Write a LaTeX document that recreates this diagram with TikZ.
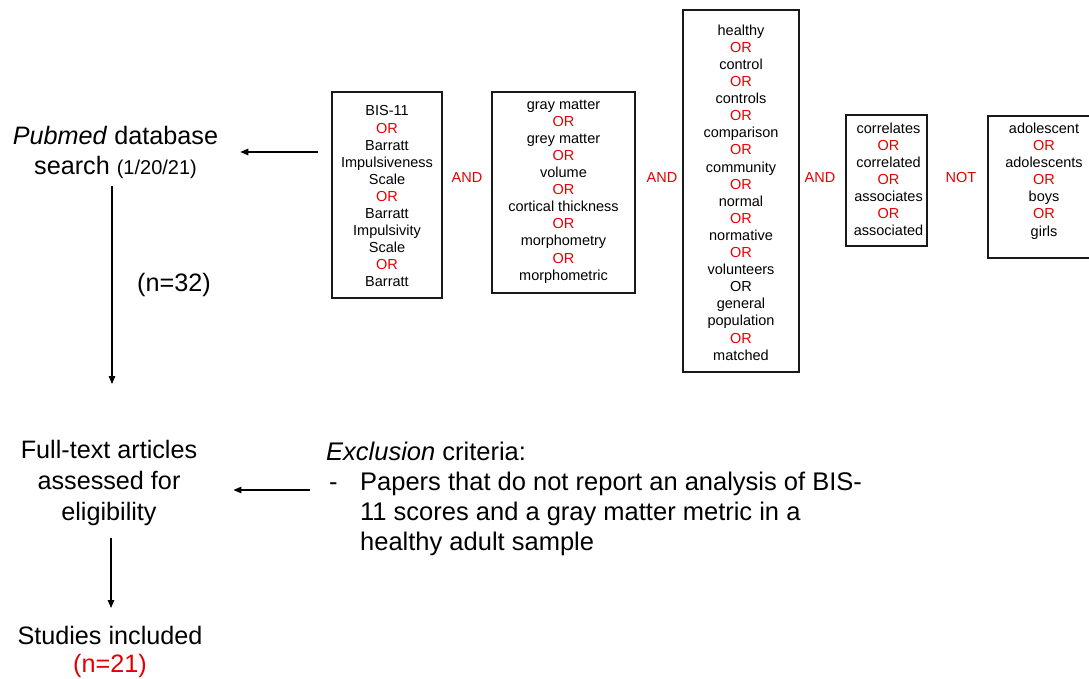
\documentclass[tikz,border=0pt]{standalone}
\usepackage{fontspec}
\setmainfont{Liberation Sans}
\usetikzlibrary{arrows.meta}
\definecolor{orred}{RGB}{228,0,0}
\newcommand{\ror}{\textcolor{orred}{OR}}
\begin{document}
\begin{tikzpicture}[x=1pt,y=-1pt,
  box/.style={draw=black!90, line width=1.1pt, inner sep=0pt},
  qt/.style={font=\fontsize{14.5}{17.1}\selectfont, align=center, inner sep=0pt},
  op/.style={font=\fontsize{14.5}{17.1}\selectfont, text=orred, inner sep=0pt},
  big/.style={font=\fontsize{25.2}{30}\selectfont, align=center, inner sep=0pt},
  arr/.style={line width=1.1pt, -{Triangle[length=8pt,width=6.5pt]}}]
\useasboundingbox (0,0) rectangle (1089,679);

% search term boxes
\node[box, minimum width=110pt, minimum height=206pt] (b1) at (387,195) {};
\node[qt] (t1) at (387,196.5) {BIS-11\\\ror\\Barratt\\Impulsiveness\\Scale\\\ror\\Barratt\\Impulsivity\\Scale\\\ror\\Barratt};
\node[op] (and1) at (467,178) {AND};

\node[box, minimum width=143pt, minimum height=201pt] (b2) at (563.5,192.5) {};
\node[qt] (t2) at (563.5,191.5) {gray matter\\\ror\\grey matter\\\ror\\volume\\\ror\\cortical thickness\\\ror\\morphometry\\\ror\\morphometric};
\node[op] (and2) at (662,178) {AND};

\node[box, minimum width=116pt, minimum height=362pt] (b3) at (741,191) {};
\node[qt] (t3) at (741,192.5) {healthy\\\ror\\control\\\ror\\controls\\\ror\\comparison\\\ror\\community\\\ror\\normal\\\ror\\normative\\\ror\\volunteers\\OR\\general\\population\\\ror\\matched};
\node[op] (and3) at (820,178) {AND};

\node[box, minimum width=81pt, minimum height=131pt] (b4) at (886.5,180.5) {};
\node[qt] (t4) at (888.5,179.5) {correlates\\\ror\\correlated\\\ror\\associates\\\ror\\associated};
\node[op] (not1) at (961,178) {NOT};

\node[box, minimum width=110pt, minimum height=142pt] (b5) at (1043,187) {};
\node[qt] (t5) at (1044,181) {adolescent\\\ror\\adolescents\\\ror\\boys\\\ror\\girls};

% flow
\node[big] (pubmed) at (115.5,152) {\textit{Pubmed} database\\search {\fontsize{20}{24}\selectfont (1/20/21)}};
\node[big] (n32) at (174,285) {(n=32)};
\node[big, font=\fontsize{25.2}{31}\selectfont] (full) at (109,483) {Full-text articles\\assessed for\\eligibility};
\node[big, font=\fontsize{25.2}{28}\selectfont] (incl) at (110,652) {Studies included\\\textcolor{orred}{(n=21)}};

\node[inner sep=0pt, anchor=base west, font=\fontsize{25.5}{30}\selectfont] (excl) at (326,460)
  {\begin{tabular}[t]{@{}l@{}l@{}}
   \multicolumn{2}{@{}l@{}}{\textit{Exclusion} criteria:}\\
   \makebox[34pt][l]{\hspace{3pt}-} & Papers that do not report an analysis of BIS-\\
   & 11 scores and a gray matter metric in a\\
   & healthy adult sample
   \end{tabular}};

% connectors
\coordinate (q1) at (318,152);
\coordinate (q2) at (310,490);
\coordinate (v1e) at (112,384);
\coordinate (v2e) at (111,608);
\draw[arr, shorten >=22pt] (q1) -- (pubmed.east |- q1);
\draw[arr] (pubmed.south -| v1e) ++(0,8) -- (v1e);
\draw[arr, shorten >=36pt] (q2) -- (full.east |- q2);
\draw[arr] (full.south -| v2e) ++(0,12) -- (v2e);
\end{tikzpicture}
\end{document}
